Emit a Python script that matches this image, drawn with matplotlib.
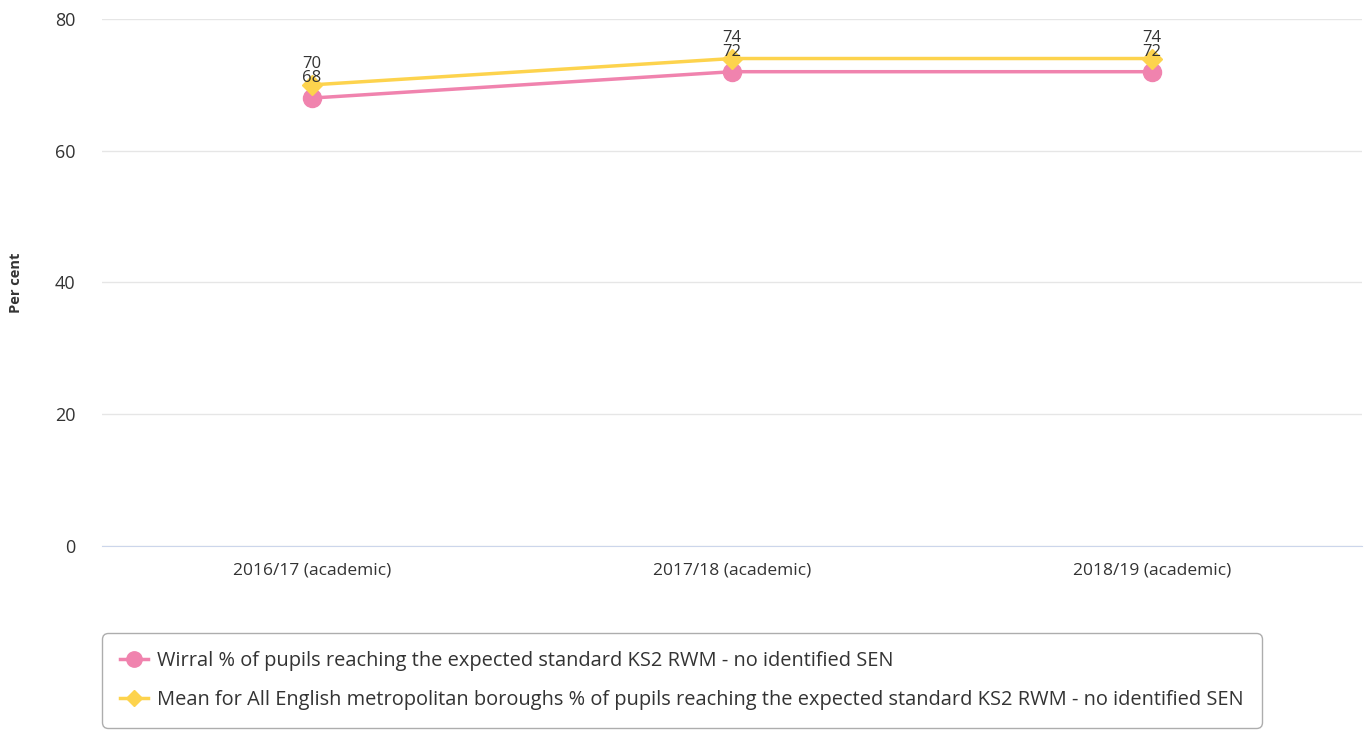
import numpy as np
import matplotlib.pyplot as plt

plt.rcParams['font.family'] = ['Open Sans', 'DejaVu Sans']

years = ['2016/17 (academic)', '2017/18 (academic)', '2018/19 (academic)']
wirral = [68, 72, 72]
mean_met = [70, 74, 74]
wirral_label = 'Wirral % of pupils reaching the expected standard KS2 RWM - no identified SEN'
mean_label = 'Mean for All English metropolitan boroughs % of pupils reaching the expected standard KS2 RWM - no identified SEN'

pink = '#F083AE'
yellow = '#FDD34D'

fig = plt.figure(figsize=(13.65, 7.31), dpi=100)
ax = fig.add_axes([0.0747, 0.2531, 0.9231, 0.7209])

x = np.arange(len(years))
ax.plot(x, wirral, color=pink, lw=2.5, marker='o', markersize=13, label=wirral_label, zorder=3)
ax.plot(x, mean_met, color=yellow, lw=2.5, marker='D', markersize=10, label=mean_label, zorder=4)

# data labels
for xi, v in zip(x, wirral):
    ax.annotate(str(v), (xi, v), xytext=(0, 14.5), textcoords='offset points',
                ha='center', va='center', fontsize=12, color='#333333', zorder=5)
for xi, v in zip(x, mean_met):
    ax.annotate(str(v), (xi, v), xytext=(0, 15), textcoords='offset points',
                ha='center', va='center', fontsize=12, color='#333333', zorder=5)

ax.set_xlim(-0.5, 2.5)
ax.set_ylim(0, 80)
ax.set_yticks([0, 20, 40, 60, 80])
ax.set_xticks(x)
ax.set_xticklabels(years)
ax.grid(axis='y', color='#e6e6e6', lw=1)
ax.set_axisbelow(True)
for s in ['top', 'right', 'left']:
    ax.spines[s].set_visible(False)
ax.spines['bottom'].set_color('#ccd6eb')
ax.tick_params(axis='y', length=0, labelsize=13, labelcolor='#333333', pad=19)
ax.tick_params(axis='x', length=0, labelsize=12.5, labelcolor='#333333', pad=12)
ax.set_ylabel('Per cent', fontsize=10.5, fontweight='bold', color='#333333')
ax.yaxis.set_label_coords(-0.0627, 0.5)

leg = fig.legend(loc='upper left', bbox_to_anchor=(0.0747, 1 - 633 / 731),
                 frameon=True, fontsize=14.4, handlelength=1.4, borderpad=0.9,
                 labelspacing=0.95, handletextpad=0.45, borderaxespad=0,
                 markerscale=0.85)
frame = leg.get_frame()
frame.set_edgecolor('#999999')
frame.set_linewidth(1)
frame.set_boxstyle('round,pad=0,rounding_size=0.3')
for t in leg.get_texts():
    t.set_color('#333333')

fig.savefig('out.png', dpi=100)
